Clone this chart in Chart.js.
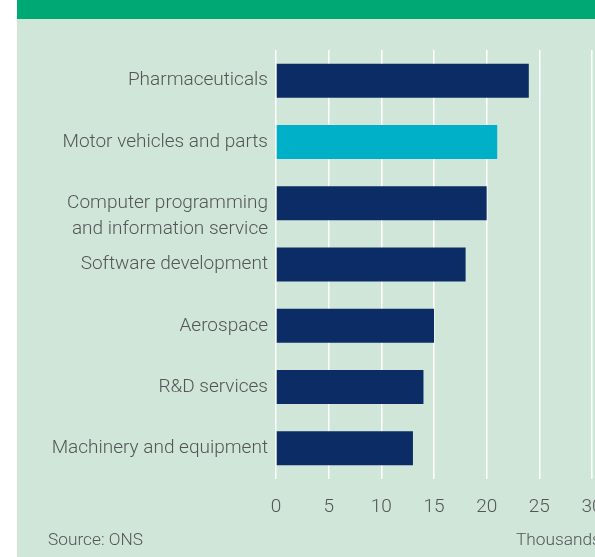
<!DOCTYPE html>
<html>
<head>
<meta charset="utf-8">
<script src="https://cdn.jsdelivr.net/npm/chart.js@4.4.1/dist/chart.umd.min.js"></script>
<style>
  body{margin:0;background:#fff;font-family:Roboto,sans-serif;}
  #wrap{position:relative;width:595px;height:557px;overflow:hidden;}
  #panel{position:absolute;left:17px;top:19px;width:578px;height:538px;background:#cfe6d9;}
  #header{position:absolute;left:17px;top:0;width:578px;height:19px;background:#00a874;}
  #chart{position:absolute;left:0;top:0;}
  .note{position:absolute;color:#555;font-size:17.3px;font-weight:300;white-space:nowrap;}
</style>
</head>
<body>
<div id="wrap">
  <div id="header"></div>
  <div id="panel"></div>
  <canvas id="chart" width="595" height="557"></canvas>
  <div class="note" style="left:48px;top:529px;">Source: ONS</div>
  <div class="note" style="left:516px;top:529px;">Thousands</div>
</div>
<script>
// ===== DATA =====
// the blank first line pushes this two-line label down, like in the original
const categories = [
  "Pharmaceuticals",
  "Motor vehicles and parts",
  ["", "Computer programming", "and information service"],
  "Software development",
  "Aerospace",
  "R&D services",
  "Machinery and equipment"
];
const values = [24, 21, 20, 18, 15, 14, 13];
const highlight = [false, true, false, false, false, false, false];
const xTicks = [0, 5, 10, 15, 20, 25, 30];

const NAVY = "#0b2c64";
const CYAN = "#00b0c8";

// ===== CHART =====
const ctx = document.getElementById("chart").getContext("2d");

new Chart(ctx, {
  type: "bar",
  data: {
    labels: categories,
    datasets: [{
      data: values,
      backgroundColor: highlight.map(h => h ? CYAN : NAVY),
      barPercentage: 0.555,
      categoryPercentage: 1
    }]
  },
  options: {
    indexAxis: "y",
    responsive: false,
    animation: false,
    layout: { padding: { top: 50, right: 3, left: 0, bottom: 0 } },
    plugins: { legend: { display: false }, tooltip: { enabled: false } },
    scales: {
      x: {
        min: 0,
        max: 30,
        afterBuildTicks: (s) => { s.ticks = xTicks.map(v => ({ value: v })); },
        afterFit: (s) => { s.height = 78; s.paddingLeft = 0; s.paddingRight = 0; },
        grid: { color: "#ffffff", lineWidth: 1.5, drawTicks: false },
        border: { display: false },
        ticks: {
          color: "#555",
          padding: 17,
          font: { family: "Roboto", size: 19, weight: "300" },
          maxRotation: 0
        }
      },
      y: {
        afterFit: (s) => { s.width = 276; },
        grid: { display: false, drawTicks: false },
        border: { display: false },
        ticks: {
          autoSkip: false,
          color: "#555",
          padding: 8,
          font: { family: "Roboto", size: 19, weight: "300", lineHeight: 1.35 }
        }
      }
    }
  }
});
</script>
</body>
</html>
